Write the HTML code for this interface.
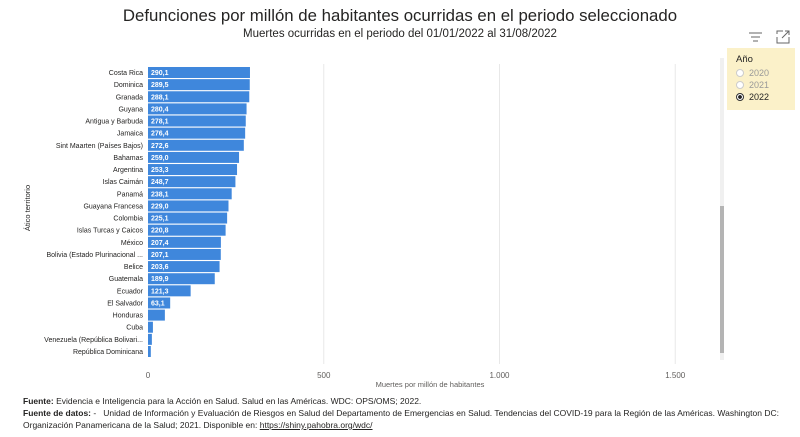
<!DOCTYPE html>
<html><head><meta charset="utf-8">
<style>
body{margin:0;width:800px;height:437px;background:#fff;font-family:"Liberation Sans",sans-serif;overflow:hidden;position:relative}
.abs{position:absolute}
#title{left:0;width:800px;top:6px;text-align:center;font-size:16.8px;color:#252423}
#sub{left:0;width:800px;top:28px;text-align:center;font-size:11.5px;color:#252423}
.foot{left:23px;font-size:8.5px;color:#252423}
</style></head><body>
<div id="title" class="abs">Defunciones por millón de habitantes ocurridas en el periodo seleccionado</div>
<div id="sub" class="abs">Muertes ocurridas en el periodo del 01/01/2022 al 31/08/2022</div>
<svg class="abs" style="left:0;top:0" width="800" height="437">
<g id="grid"></g><g id="bars"></g><g id="labels"></g>
<text x="30" y="208" transform="rotate(-90 30 208)" text-anchor="middle" font-size="7.5" fill="#252423">Ático territorio</text>
<text x="430" y="387" text-anchor="middle" font-size="7.5" fill="#605e5c">Muertes por millón de habitantes</text>
<rect x="720" y="58" width="4" height="302" fill="#f0f0f0"/>
<rect x="720" y="206" width="4" height="147" fill="#b4b4b4"/>
<g stroke="#666" stroke-width="1"><line x1="749" y1="33" x2="762" y2="33"/><line x1="751" y1="37" x2="760" y2="37"/><line x1="753" y1="41" x2="758" y2="41"/></g>
<g fill="none" stroke="#666" stroke-width="1"><path d="M777 37 V43 H789 V37 M783 31 H777 V34 M785 31 H789 V35 M782 38 L789 31"/></g>
</svg>
<div class="abs" style="left:727px;top:48px;width:68px;height:62px;background:#fbf1c9">
<div style="position:absolute;left:9px;top:6px;font-size:9.5px;color:#252423">Año</div>
<div id="opts"></div>
</div>
<div class="abs foot" style="top:396px"><b>Fuente:</b> Evidencia e Inteligencia para la Acción en Salud. Salud en las Américas. WDC: OPS/OMS; 2022.</div>
<div class="abs foot" style="top:407px;line-height:12px;width:770px"><b>Fuente de datos:</b> -&nbsp;&nbsp; Unidad de Información y Evaluación de Riesgos en Salud del Departamento de Emergencias en Salud. Tendencias del COVID-19 para la Región de las Américas. Washington DC: Organización Panamericana de la Salud; 2021. Disponible en: <span style="color:#252423;text-decoration:underline">https://shiny.pahobra.org/wdc/</span></div>
<script>
const categories=["Costa Rica","Dominica","Granada","Guyana","Antigua y Barbuda","Jamaica","Sint Maarten (Países Bajos)","Bahamas","Argentina","Islas Caimán","Panamá","Guayana Francesa","Colombia","Islas Turcas y Caicos","México","Bolivia (Estado Plurinacional ...","Belice","Guatemala","Ecuador","El Salvador","Honduras","Cuba","Venezuela (República Bolivari...","República Dominicana"];
const values=[290.1,289.5,288.1,280.4,278.1,276.4,272.6,259.0,253.3,248.7,238.1,229.0,225.1,220.8,207.4,207.1,203.6,189.9,121.3,63.1,48,14,11,8];
const ticks=[0,500,1000,1500];
const tickLabels=["0","500","1.000","1.500"];
const years=["2020","2021","2022"];
const selectedYear="2022";
const NS="http://www.w3.org/2000/svg";
const x=v=>148+v*0.3515;
const y=i=>67+i*12.13;
function mk(t,a,p){const e=document.createElementNS(NS,t);for(const k in a)e.setAttribute(k,a[k]);p.appendChild(e);return e;}
const grid=document.getElementById('grid'),bars=document.getElementById('bars'),labels=document.getElementById('labels');
ticks.forEach((t,i)=>{
 if(t>0){const l=mk('line',{x1:x(t),x2:x(t),y1:64,y2:364,stroke:'#e8e8e8','stroke-width':1},grid);
 
 }
 const tx=mk('text',{x:x(t),y:378,'text-anchor':'middle','font-size':8,fill:'#605e5c'},grid);tx.textContent=tickLabels[i];
 
 
});
categories.forEach((c,i)=>{
 const r=mk('rect',{x:x(0),y:y(i),width:x(values[i])-x(0),height:11,fill:'#3f87dc'},bars);
 
 
 const t=mk('text',{x:143,y:y(i)+8,'text-anchor':'end','font-size':7,fill:'#252423'},labels);t.textContent=c;
 
 
 if(values[i]>60){const v=mk('text',{x:x(0)+3,y:y(i)+8,'font-size':7,'font-weight':'bold',fill:'#fff'},labels);v.textContent=values[i].toFixed(1).replace('.',',');
 
 }
});
const opts=document.getElementById('opts');
years.forEach((yr,i)=>{
 const d=document.createElement('div');
 d.style.cssText='position:absolute;left:9px;top:'+(20+i*12)+'px;font-size:9px;color:'+(yr===selectedYear?'#252423':'#999')+';white-space:nowrap';
 const sel=yr===selectedYear;
 d.innerHTML='<span style="display:inline-block;width:6px;height:6px;border-radius:50%;border:1px solid '+(sel?'#333':'#ccc')+';background:'+(sel?'radial-gradient(#222 40%,#fff 50%)':'#fff')+';margin-right:5px;vertical-align:-1px"></span>'+yr;
 
 
 opts.appendChild(d);
});
</script>
</body></html>
